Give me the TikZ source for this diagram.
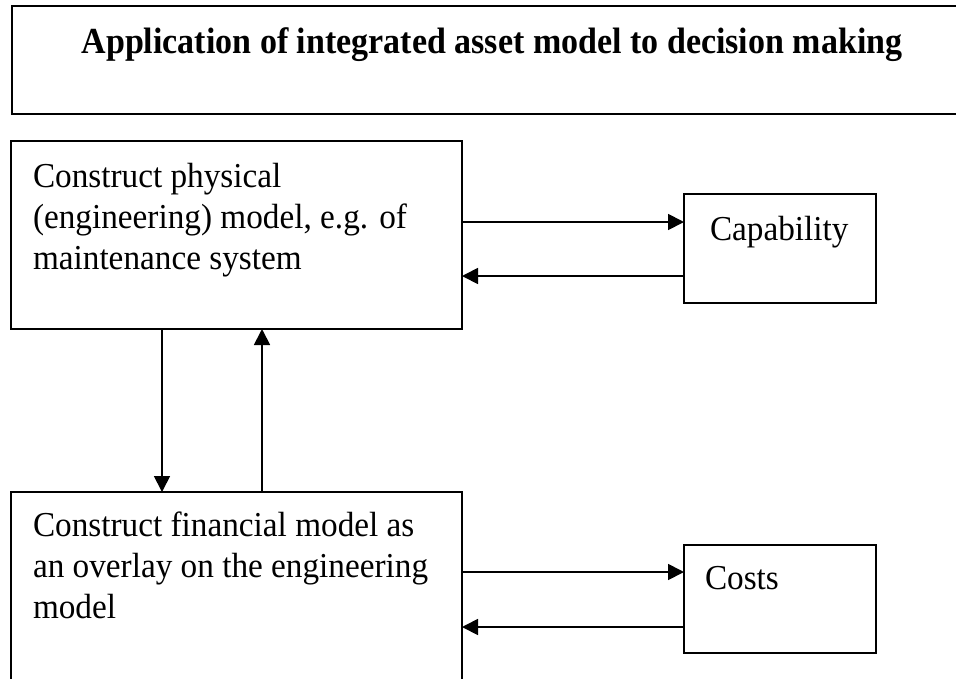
\documentclass[tikz,border=0pt]{standalone}
\usepackage{fontspec}
\setmainfont{Liberation Serif}
\usetikzlibrary{arrows.meta}
\tikzset{
  box/.style={draw, line width=1.8pt, rectangle, inner sep=0pt, outer sep=0pt, anchor=north west},
  titlebox/.style={box, line width=2.8pt},
  txt/.style={inner sep=0pt, outer sep=0pt, align=left, anchor=north west, xscale=0.95, transform shape, font=\fontsize{35}{41}\selectfont},
  titletxt/.style={inner sep=0pt, outer sep=0pt, anchor=base, yscale=1.08, transform shape, font=\fontsize{34}{40}\selectfont\bfseries},
  arr/.style={line width=1.8pt, -{Triangle[length=16pt,width=16pt]}}
}
\begin{document}
\begin{tikzpicture}[x=1pt,y=-1pt]
\useasboundingbox (0,0) rectangle (956,678);
\clip (0,0) rectangle (956,678);
\node[titlebox, minimum width=970pt, minimum height=108pt] (title) at (12,6) {};
\node[titletxt] (titleT) at (492,53) {Application of integrated asset model to decision making};
\node[box, minimum width=451pt, minimum height=188pt] (phys) at (11,141) {};
\node[txt] (physT) at (33,163) {Construct physical\\(engineering) model, e.g. of\\maintenance system};
\node[box, minimum width=192pt, minimum height=109pt] (cap) at (684,194) {};
\node[txt] (capT) at (710,216) {Capability};
\node[box, minimum width=451pt, minimum height=210pt] (fin) at (11,492) {};
\node[txt] (finT) at (33,512) {Construct financial model as\\an overlay on the engineering\\model};
\node[box, minimum width=192pt, minimum height=108pt] (costs) at (684,545) {};
\node[txt] (costsT) at (705,566) {Costs};
\draw[arr] (phys.east |- 0,222) -- (cap.west |- 0,222);
\draw[arr] (cap.west |- 0,276) -- (phys.east |- 0,276);
\draw[arr] (fin.east |- 0,572) -- (costs.west |- 0,572);
\draw[arr] (costs.west |- 0,627) -- (fin.east |- 0,627);
\draw[arr] (phys.south -| 162,0) -- (fin.north -| 162,0);
\draw[arr] (fin.north -| 262,0) -- (phys.south -| 262,0);
\end{tikzpicture}
\end{document}
